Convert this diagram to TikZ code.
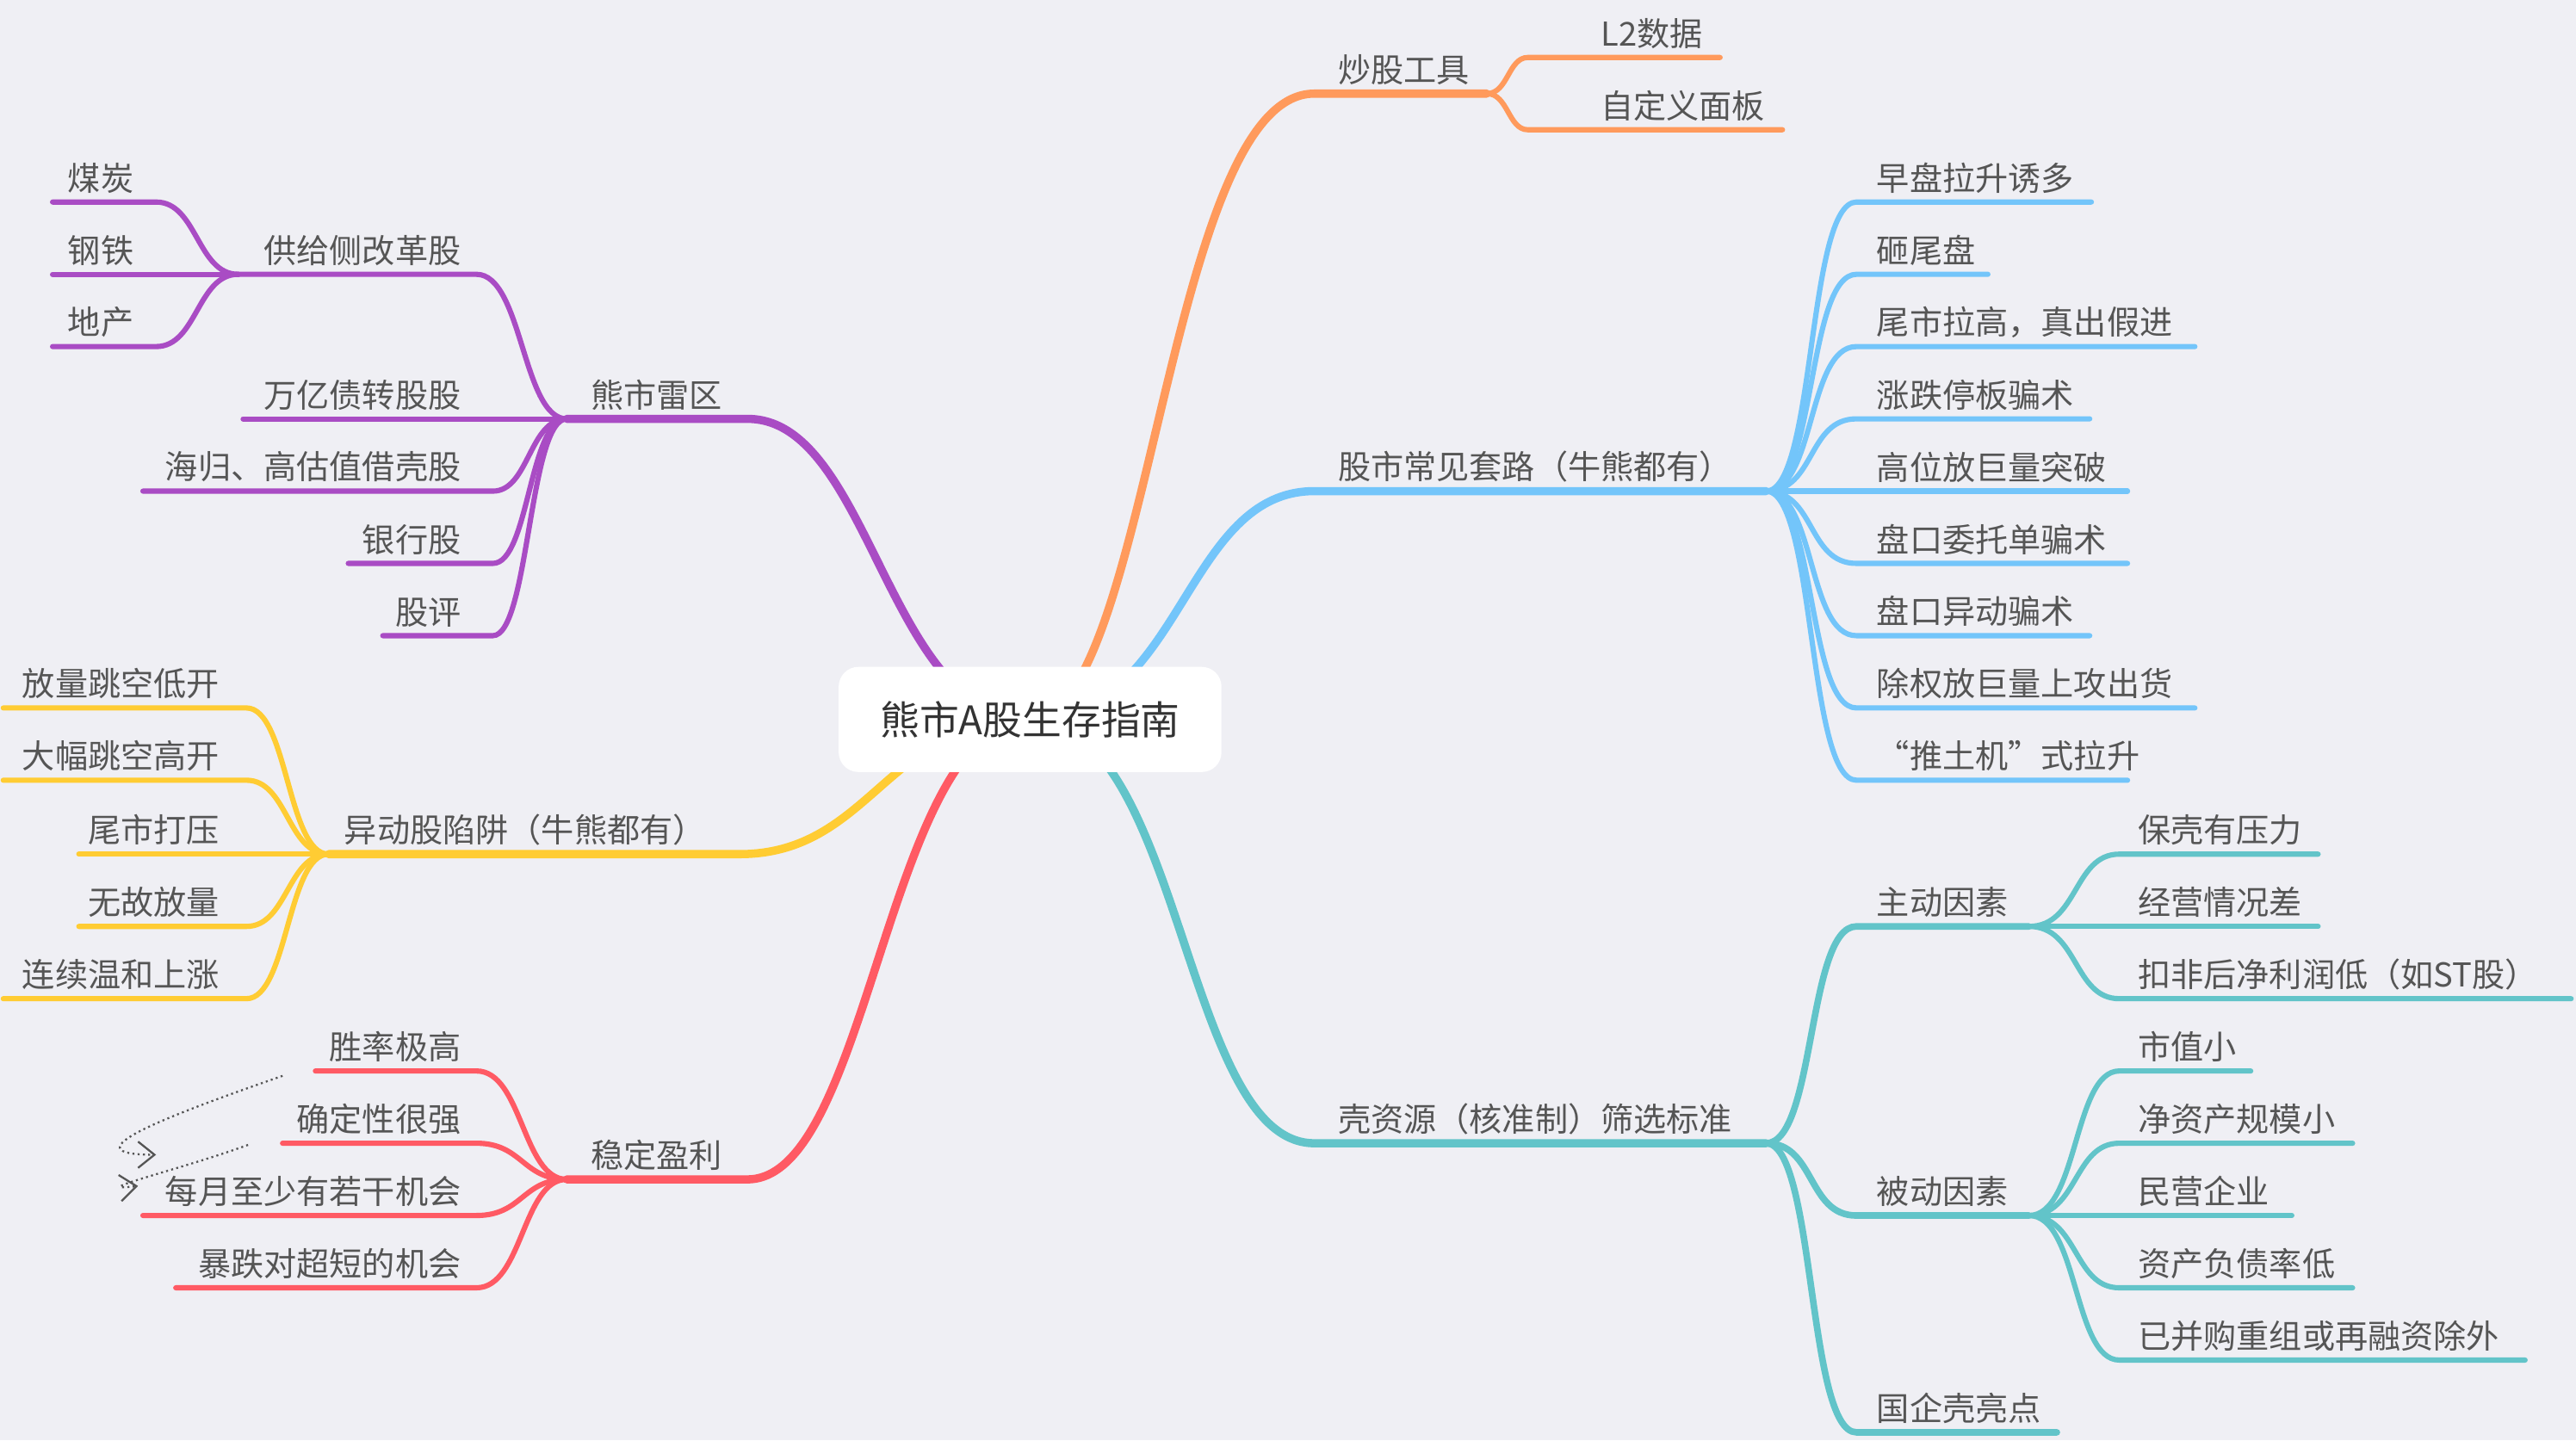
\documentclass[tikz,border=0pt]{standalone}
\usepackage{fontspec}
\setmainfont{Noto Sans CJK SC}
\usetikzlibrary{arrows.meta,calc}
\definecolor{bg}{HTML}{EFEFF4}
\definecolor{cO}{HTML}{FF9A5C}
\definecolor{cB}{HTML}{73C5FA}
\definecolor{cT}{HTML}{62C4C9}
\definecolor{cP}{HTML}{A94CC4}
\definecolor{cY}{HTML}{FFCC33}
\definecolor{cR}{HTML}{FF5A64}
\definecolor{tx}{HTML}{555555}
\tikzset{
 lab/.style={text=tx,font=\fontsize{10}{12}\selectfont,inner sep=1pt},
 rl/.style={lab,anchor=south west},
 ll/.style={lab,anchor=south east},
 main/.style={line width=2.5pt,line cap=round},
 sub/.style={line width=1.6pt,line cap=round},
}
\begin{document}
\begin{tikzpicture}[x=0.5pt,y=-0.5pt]
\fill[bg] (0,0) rectangle (1568,877);
\useasboundingbox (0,0) rectangle (1568,877);
\coordinate (C) at (627,438);
% ---------- orange
\coordinate (o0) at (800,57); \coordinate (o1) at (905,57);
\draw[main,cO] (C) .. controls (700,438) and (710,57) .. (o0) -- (o1);
\node[rl] at (812,54) {炒股工具};
\foreach \y/\e/\t in {35/1047/L2数据,79/1085/自定义面板}{
 \coordinate (a) at (930,\y); \coordinate (b) at (\e,\y);
 \draw[sub,cO] (o1) .. controls (918,57) and (918,\y) .. (a) -- (b);
 \node[rl] at (972,\y-3) {\t};}
% ---------- blue
\coordinate (b0) at (800,299); \coordinate (b1) at (1075,299);
\draw[main,cB] (C) .. controls (720,438) and (720,299) .. (b0) -- (b1);
\node[rl] at (812,296) {股市常见套路（牛熊都有）};
\foreach \y/\e/\t in {123/1273/早盘拉升诱多,167/1210/砸尾盘,211/1336/{尾市拉高，真出假进},255/1272/涨跌停板骗术,299/1295/高位放巨量突破,343/1295/盘口委托单骗术,387/1272/盘口异动骗术,431/1336/除权放巨量上攻出货,475/1295/“推土机”式拉升}{
 \coordinate (a) at (1130,\y); \coordinate (b) at (\e,\y);
 \draw[sub,cB] (b1) .. controls (1105,299) and (1100,\y) .. (a) -- (b);
 \node[rl] at (1140,\y-3) {\t};}
% ---------- teal
\coordinate (t0) at (800,696); \coordinate (t1) at (1075,696);
\draw[main,cT] (C) .. controls (720,438) and (720,696) .. (t0) -- (t1);
\node[rl] at (812,693) {壳资源（核准制）筛选标准};
\foreach \y/\e/\t/\n in {564/1235/主动因素/tA,740/1235/被动因素/tB,872/1252/国企壳亮点/tC}{
 \coordinate (a) at (1130,\y); \coordinate (\n) at (\e,\y);
 \draw[main,line width=2pt,cT] (t1) .. controls (1105,696) and (1100,\y) .. (a) -- (\n);
 \node[rl] at (1140,\y-3) {\t};}
\foreach \y/\e/\t in {520/1411/保壳有压力,564/1411/经营情况差,608/1565/扣非后净利润低（如ST股）}{
 \coordinate (a) at (1290,\y); \coordinate (b) at (\e,\y);
 \draw[sub,cT] (tA) .. controls (1265,564) and (1262,\y) .. (a) -- (b);
 \node[rl] at (1299,\y-3) {\t};}
\foreach \y/\e/\t in {652/1370/市值小,696/1432/净资产规模小,740/1395/民营企业,784/1432/资产负债率低,828/1537/已并购重组或再融资除外}{
 \coordinate (a) at (1290,\y); \coordinate (b) at (\e,\y);
 \draw[sub,cT] (tB) .. controls (1265,740) and (1262,\y) .. (a) -- (b);
 \node[rl] at (1299,\y-3) {\t};}
% ---------- purple
\coordinate (p0) at (455,255); \coordinate (p1) at (345,255);
\draw[main,cP] (C) .. controls (540,438) and (530,255) .. (p0) -- (p1);
\node[ll] at (442,252) {熊市雷区};
\coordinate (pa) at (290,167); \coordinate (pA) at (145,167);
\draw[sub,cP] (p1) .. controls (318,255) and (318,167) .. (pa) -- (pA);
\node[ll] at (283,164) {供给侧改革股};
\foreach \y/\e/\t in {255/148/万亿债转股股,299/87/{海归、高估值借壳股},343/212/银行股,387/233/股评}{
 \coordinate (a) at (300,\y); \coordinate (b) at (\e,\y);
 \draw[sub,cP] (p1) .. controls (322,255) and (322,\y) .. (a) -- (b);
 \node[ll] at (283,\y-3) {\t};}
\foreach \y/\t in {123/煤炭,167/钢铁,211/地产}{
 \coordinate (a) at (95,\y); \coordinate (b) at (32,\y);
 \draw[sub,cP] (pA) .. controls (120,167) and (120,\y) .. (a) -- (b);
 \node[rl] at (39,\y-3) {\t};}
% ---------- yellow
\coordinate (y0) at (450,520); \coordinate (y1) at (200,520);
\draw[main,cY] (C) .. controls (540,438) and (530,520) .. (y0) -- (y1);
\node[ll] at (432,517) {异动股陷阱（牛熊都有）};
\foreach \y/\e/\t in {431/2/放量跳空低开,475/2/大幅跳空高开,520/48/尾市打压,564/48/无故放量,608/2/连续温和上涨}{
 \coordinate (a) at (150,\y); \coordinate (b) at (\e,\y);
 \draw[sub,cY] (y1) .. controls (175,520) and (175,\y) .. (a) -- (b);
 \node[ll] at (136,\y-3) {\t};}
% ---------- red
\coordinate (r0) at (455,718); \coordinate (r1) at (345,718);
\draw[main,cR] (C) .. controls (540,438) and (530,718) .. (r0) -- (r1);
\node[ll] at (442,715) {稳定盈利};
\foreach \y/\e/\t/\n in {652/192/胜率极高/rA,696/172/确定性很强/rB,740/87/每月至少有若干机会/rC,784/107/暴跌对超短的机会/rD}{
 \coordinate (a) at (290,\y); \coordinate (\n) at (\e,\y);
 \draw[sub,cR] (r1) .. controls (318,718) and (318,\y) .. (a) -- (\n);
 \node[ll] at (283,\y-3) {\t};}
% dotted arrows
\draw[densely dotted,line width=0.6pt,tx,-{Straight Barb[length=5pt,width=8pt]}] ($(rA)+(-20,3)$) .. controls (100,680) and (40,703) .. (95,703);
\draw[densely dotted,line width=0.6pt,tx,-{Straight Barb[length=5pt,width=8pt]}] ($(rB)+(-21,1)$) .. controls (110,712) and (50,726) .. (84,722);
% ---------- center
\node[fill=white,rounded corners=6pt,minimum width=116.5pt,minimum height=32pt,text=black!80,font=\fontsize{12}{14}\selectfont] (center) at (C) {熊市A股生存指南};
\end{tikzpicture}
\end{document}
